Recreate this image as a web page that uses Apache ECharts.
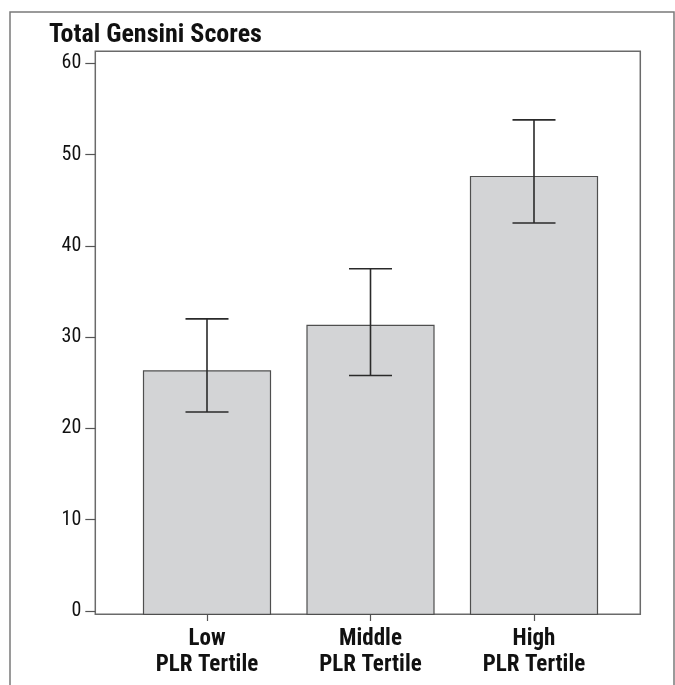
<!DOCTYPE html>
<html>
<head>
<meta charset="utf-8">
<script src="https://cdn.jsdelivr.net/npm/echarts@6/dist/echarts.min.js"></script>
<style>
html,body{margin:0;padding:0;background:#fff;}
#chart{width:675px;height:685px;}
</style>
</head>
<body>
<div id="chart"></div>
<script>
const categories = ['Low\nPLR Tertile', 'Middle\nPLR Tertile', 'High\nPLR Tertile'];
const means = [26.3, 31.3, 47.6];
const upper = [32.0, 37.5, 53.8];
const lower = [21.8, 25.8, 42.5];
const yTicks = [0, 10, 20, 30, 40, 50, 60];
const titleText = 'Total Gensini Scores';

const FONT = '"Roboto Condensed", "Liberation Sans Narrow", sans-serif';

const chart = echarts.init(document.getElementById('chart'), null, {renderer: 'canvas'});

const barData = means.map((v, i) => [i, v]);
const errData = categories.map((c, i) => [i, lower[i], upper[i]]);

const option = {
  backgroundColor: '#ffffff',
  animation: false,
  title: {
    text: titleText,
    left: 44,
    top: 17,
    textStyle: {fontFamily: FONT, fontWeight: 'bold', fontSize: 26, color: '#111'}
  },
  graphic: [{
    type: 'rect',
    shape: {x: 10, y: 12, width: 664, height: 700},
    style: {fill: 'none', stroke: '#7a7a7a', lineWidth: 1.5},
    silent: true,
    z: -1
  }],
  grid: [
    {left: 125.25, width: 490.5, top: 63.3, height: 551, show: false},
    {left: 95.3, width: 545, top: 51.3, height: 563, show: true, borderColor: '#6a6a6a', borderWidth: 1.5, backgroundColor: 'transparent'},
    {left: 95.3, width: 545, top: 63.3, height: 547.7, show: false}
  ],
  xAxis: [
    {
      gridIndex: 0, type: 'category', data: categories,
      axisLine: {show: false},
      axisTick: {show: true, alignWithLabel: true, length: 10, lineStyle: {color: '#555', width: 1.2}},
      axisLabel: {
        margin: 12, fontFamily: FONT, fontWeight: 'bold', fontSize: 23, color: '#111',
        lineHeight: 26, align: 'center'
      },
      splitLine: {show: false}
    },
    {gridIndex: 1, type: 'value', show: false, min: 0, max: 1},
    {gridIndex: 2, type: 'value', show: false, min: 0, max: 1}
  ],
  yAxis: [
    {gridIndex: 0, type: 'value', min: -0.36, max: 60, show: false, splitLine: {show: false}},
    {gridIndex: 1, type: 'value', show: false, min: 0, max: 1},
    {
      gridIndex: 2, type: 'value', min: 0, max: 60, interval: 10,
      axisLine: {show: false},
      axisTick: {show: true, length: 10, lineStyle: {color: '#555', width: 1.2}},
      axisLabel: {
        margin: 14, fontFamily: FONT, fontSize: 20, color: '#111',
        customValues: yTicks
      },
      splitLine: {show: false}
    }
  ],
  series: [
    {
      type: 'custom',
      xAxisIndex: 0, yAxisIndex: 0,
      data: barData,
      z: 2,
      renderItem: function (params, api) {
        const top = api.coord([api.value(0), api.value(1)]);
        const base = params.coordSys.y + params.coordSys.height;
        const w = 127;
        return {
          type: 'rect',
          shape: {x: top[0] - w / 2, y: top[1], width: w, height: base - top[1]},
          style: {fill: '#d3d4d6', stroke: '#4f4f4f', lineWidth: 1.2}
        };
      }
    },
    {
      type: 'custom',
      xAxisIndex: 0, yAxisIndex: 0,
      data: errData,
      z: 3,
      renderItem: function (params, api) {
        const x = api.value(0);
        const lo = api.coord([x, api.value(1)]);
        const hi = api.coord([x, api.value(2)]);
        const half = 21.5;
        const st = {stroke: '#2a2a2a', lineWidth: 1.6, fill: null};
        return {
          type: 'group',
          children: [
            {type: 'line', shape: {x1: hi[0], y1: hi[1], x2: lo[0], y2: lo[1]}, style: st},
            {type: 'line', shape: {x1: hi[0] - half, y1: hi[1], x2: hi[0] + half, y2: hi[1]}, style: st},
            {type: 'line', shape: {x1: lo[0] - half, y1: lo[1], x2: lo[0] + half, y2: lo[1]}, style: st}
          ]
        };
      }
    }
  ]
};

chart.setOption(option);
</script>
</body>
</html>
